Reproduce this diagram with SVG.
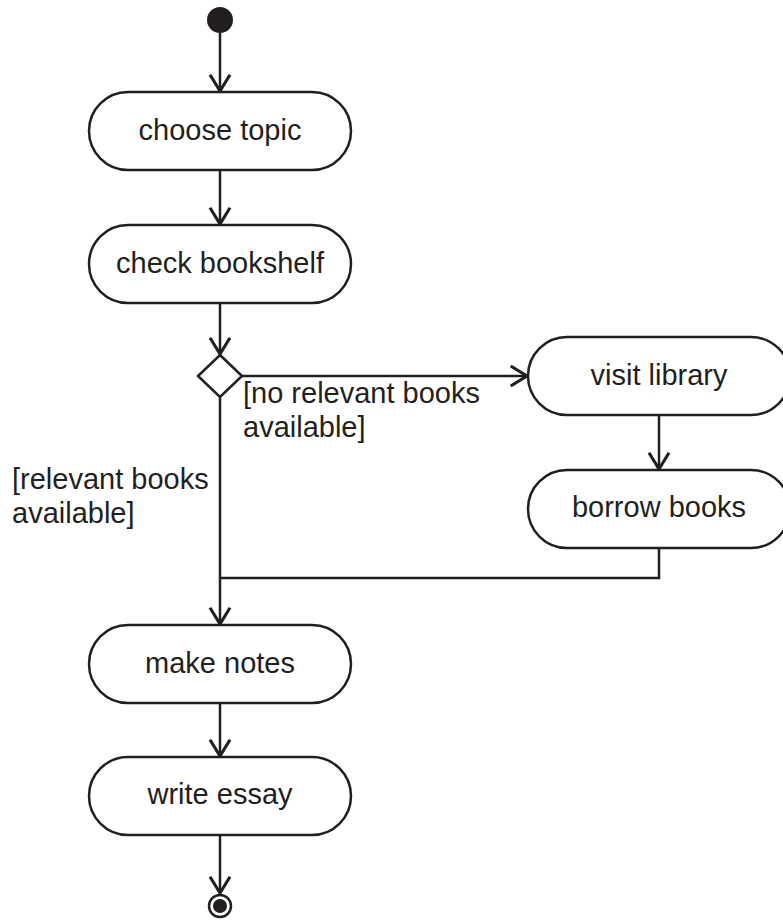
<svg xmlns="http://www.w3.org/2000/svg" width="783" height="920" viewBox="0 0 783 920">
  <style>
    .box { fill: #ffffff; stroke: #231f20; stroke-width: 2.5; }
    .lbl { font-family: "Liberation Sans", Arial, Helvetica, sans-serif; font-size: 29px; fill: #231f20; }
    .mid { text-anchor: middle; }
    .edge { fill: none; stroke: #231f20; stroke-width: 2.5; }
  </style>
  <defs>
    <marker id="arrow" markerUnits="userSpaceOnUse" markerWidth="30" markerHeight="30" viewBox="-16 -12 20 24" refX="0" refY="0" orient="auto">
      <path d="M-13,-8 L0,0 L-13,8" fill="none" stroke="#231f20" stroke-width="2.5"/>
    </marker>
  </defs>
  <rect width="783" height="920" fill="#ffffff"/>

  <g id="connectors">
    <line class="edge" x1="220" y1="33" x2="220" y2="91" marker-end="url(#arrow)"/>
    <line class="edge" x1="220" y1="170" x2="220" y2="224" marker-end="url(#arrow)"/>
    <line class="edge" x1="220" y1="303" x2="220" y2="354" marker-end="url(#arrow)"/>
    <line class="edge" x1="242" y1="376" x2="527" y2="376" marker-end="url(#arrow)"/>
    <line class="edge" x1="659" y1="415" x2="659" y2="469" marker-end="url(#arrow)"/>
    <polyline class="edge" points="659,548 659,578 220,578"/>
    <line class="edge" x1="220" y1="397" x2="220" y2="624" marker-end="url(#arrow)"/>
    <line class="edge" x1="220" y1="703" x2="220" y2="756" marker-end="url(#arrow)"/>
    <line class="edge" x1="220" y1="835" x2="220" y2="893" marker-end="url(#arrow)"/>
    <text class="lbl" x="243" y="403">[no relevant books</text>
    <text class="lbl" x="243" y="437">available]</text>
    <text class="lbl" x="12" y="489">[relevant books</text>
    <text class="lbl" x="12" y="523">available]</text>
  </g>

  <g id="start">
    <circle cx="220" cy="20" r="13" fill="#231f20"/>
  </g>
  <g id="choose-topic">
    <rect class="box" x="89" y="92" width="262" height="78" rx="39" ry="39"/>
    <text class="lbl mid" x="220" y="140">choose topic</text>
  </g>
  <g id="check-bookshelf">
    <rect class="box" x="89" y="225" width="262" height="78" rx="39" ry="39"/>
    <text class="lbl mid" x="220" y="273">check bookshelf</text>
  </g>
  <g id="decision">
    <polygon class="box" points="220,355 242,376 220,397 198,376"/>
  </g>
  <g id="visit-library">
    <rect class="box" x="528" y="337" width="262" height="78" rx="39" ry="39"/>
    <text class="lbl mid" x="659" y="385">visit library</text>
  </g>
  <g id="borrow-books">
    <rect class="box" x="528" y="470" width="262" height="78" rx="39" ry="39"/>
    <text class="lbl mid" x="659" y="517">borrow books</text>
  </g>
  <g id="make-notes">
    <rect class="box" x="89" y="625" width="262" height="78" rx="39" ry="39"/>
    <text class="lbl mid" x="220" y="673">make notes</text>
  </g>
  <g id="write-essay">
    <rect class="box" x="89" y="757" width="262" height="78" rx="39" ry="39"/>
    <text class="lbl mid" x="220" y="804">write essay</text>
  </g>
  <g id="end">
    <circle cx="220" cy="906" r="11" fill="none" stroke="#231f20" stroke-width="2.5"/>
    <circle cx="220" cy="906" r="7" fill="#231f20"/>
  </g>
</svg>
